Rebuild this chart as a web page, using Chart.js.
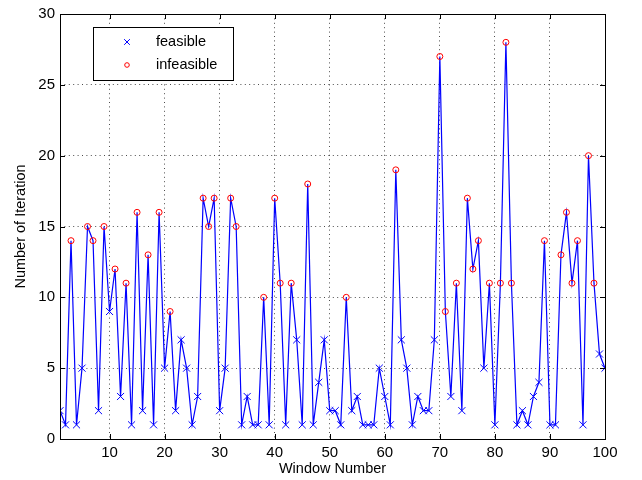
<!DOCTYPE html>
<html>
<head>
<meta charset="utf-8">
<script src="https://cdn.jsdelivr.net/npm/chart.js@4"></script>
<style>
  body { margin: 0; background: #fff; }
  #wrap { width: 642px; height: 480px; }
</style>
</head>
<body>
<div id="wrap"><canvas id="iter_chart"></canvas></div>
<script>
var iterations = [2, 1, 14, 1, 5, 15, 14, 2, 15, 9,
    12, 3, 11, 1, 16, 2, 13, 1, 16, 5,
    9, 2, 7, 5, 1, 3, 17, 15, 17, 2,
    5, 17, 15, 1, 3, 1, 1, 10, 1, 17,
    11, 1, 11, 7, 1, 18, 1, 4, 7, 2,
    2, 1, 10, 2, 3, 1, 1, 1, 5, 3,
    1, 19, 7, 5, 1, 3, 2, 2, 7, 27,
    9, 3, 11, 2, 17, 12, 14, 5, 11, 1,
    11, 28, 11, 1, 2, 1, 3, 4, 14, 1,
    1, 13, 16, 11, 14, 1, 20, 11, 6, 5]
var infeasibleWindows = [3, 6, 7, 9, 11, 13, 15, 17, 19, 21, 27, 28, 29, 32, 33, 38, 40, 41, 43, 46,
    53, 62, 70, 71, 73, 75, 76, 77, 79, 81, 82, 83, 89, 92, 93, 94, 95, 97, 98]
var seriesNames = ['feasible', 'infeasible']
var xTicks = [10, 20, 30, 40, 50, 60, 70, 80, 90, 100]
var yTicks = [0, 5, 10, 15, 20, 25, 30]

var allPoints = iterations.map(function (v, i) { return {x: i + 1, y: v} })
var feasiblePoints = allPoints.filter(function (p) { return infeasibleWindows.indexOf(p.x) < 0 })
var infeasiblePoints = allPoints.filter(function (p) { return infeasibleWindows.indexOf(p.x) >= 0 })

var FONT = 'Liberation Sans, Arial, Helvetica, sans-serif'

// box round the plot plus inward tick marks, matlab style
var axesBox = {
    id: 'axesBox',
    afterDatasetsDraw: function (chart) {
        var ctx = chart.ctx, a = chart.chartArea
        var xs = chart.scales.x, ys = chart.scales.y
        ctx.save()
        ctx.strokeStyle = '#000'
        ctx.lineWidth = 1
        ctx.beginPath()
        xTicks.forEach(function (t) {
            var px = Math.round(xs.getPixelForValue(t)) + 0.5
            ctx.moveTo(px, a.bottom); ctx.lineTo(px, a.bottom - 5)
            ctx.moveTo(px, a.top); ctx.lineTo(px, a.top + 5)
        })
        yTicks.forEach(function (t) {
            var py = Math.round(ys.getPixelForValue(t)) + 0.5
            ctx.moveTo(a.left, py); ctx.lineTo(a.left + 5, py)
            ctx.moveTo(a.right, py); ctx.lineTo(a.right - 5, py)
        })
        ctx.stroke()
        ctx.strokeRect(Math.round(a.left) + 0.5, Math.round(a.top) + 0.5,
            Math.round(a.right - a.left), Math.round(a.bottom - a.top))
        ctx.restore()
    }
}

var boxLegend = {
    id: 'boxLegend',
    afterDraw: function (chart) {
        var ctx = chart.ctx, a = chart.chartArea
        var x = Math.round(a.left) + 33, y = Math.round(a.top) + 13, w = 140, h = 53
        ctx.save()
        ctx.fillStyle = '#fff'
        ctx.fillRect(x, y, w, h)
        ctx.strokeStyle = '#000'
        ctx.lineWidth = 1
        ctx.strokeRect(x + 0.5, y + 0.5, w, h)
        ctx.font = '14.5px ' + FONT
        ctx.textBaseline = 'middle'
        ;[1, 2].forEach(function (di, k) {
            var ds = chart.data.datasets[di]
            var cy = y + 15 + k * 23
            ctx.strokeStyle = ds.pointBorderColor
            ctx.fillStyle = 'rgba(0,0,0,0)'
            ctx.lineWidth = 1
            Chart.helpers.drawPoint(ctx, {
                pointStyle: ds.pointStyle,
                radius: di === 1 ? 4 : 2.3,
                borderWidth: 1,
                rotation: 0
            }, x + 34, cy)
            ctx.fillStyle = '#000'
            ctx.fillText(ds.label, x + 63, cy)
        })
        ctx.restore()
    }
}

var ctx = document.getElementById('iter_chart')

var iterChart = new Chart(ctx, {
    type: 'line',
    data: {
        datasets: [{
            label: 'line',
            data: allPoints,
            borderColor: '#0000ff',
            borderWidth: 1.2,
            pointRadius: 0,
            tension: 0,
            order: 3
        }, {
            label: seriesNames[0],
            data: feasiblePoints,
            showLine: false,
            pointStyle: 'crossRot',
            pointRadius: 5,
            pointBorderColor: '#0000ff',
            pointBorderWidth: 1,
            order: 2
        }, {
            label: seriesNames[1],
            data: infeasiblePoints,
            showLine: false,
            pointStyle: 'circle',
            pointRadius: 3,
            pointBorderColor: '#ff0000',
            pointBackgroundColor: 'rgba(255,255,255,0)',
            pointBorderWidth: 1,
            order: 1
        }]
    },
    options: {
        responsive: true,
        maintainAspectRatio: false,
        animation: false,
        events: [],
        layout: {
            padding: {left: 0, right: 37, top: 10, bottom: 0}
        },
        plugins: {
            legend: {display: false},
            tooltip: {enabled: false}
        },
        scales: {
            x: {
                type: 'linear',
                min: 1,
                max: 100,
                afterBuildTicks: function (scale) {
                    scale.ticks = xTicks.map(function (v) { return {value: v} })
                },
                afterFit: function (scale) { scale.height = 41 },
                grid: {
                    color: 'rgba(0,0,0,0.7)',
                    lineWidth: 1,
                    drawTicks: false
                },
                border: {display: false, dash: [1, 3.4]},
                ticks: {
                    color: '#000',
                    font: {family: FONT, size: 15},
                    padding: 5,
                    maxRotation: 0
                },
                title: {
                    display: true,
                    text: 'Window Number',
                    color: '#000',
                    font: {family: FONT, size: 14.5},
                    padding: {top: 0, bottom: 2}
                }
            },
            y: {
                min: 0,
                max: 30,
                afterBuildTicks: function (scale) {
                    scale.ticks = yTicks.map(function (v) { return {value: v} })
                },
                afterFit: function (scale) { scale.width = 60 },
                grid: {
                    color: 'rgba(0,0,0,0.7)',
                    lineWidth: 1,
                    drawTicks: false
                },
                border: {display: false, dash: [1, 3.4]},
                ticks: {
                    color: '#000',
                    font: {family: FONT, size: 15},
                    padding: 5
                },
                title: {
                    display: true,
                    text: 'Number of Iteration',
                    color: '#000',
                    font: {family: FONT, size: 14.5},
                    padding: {top: 12, bottom: 0}
                }
            }
        }
    },
    plugins: [axesBox, boxLegend]
})
</script>
</body>
</html>
